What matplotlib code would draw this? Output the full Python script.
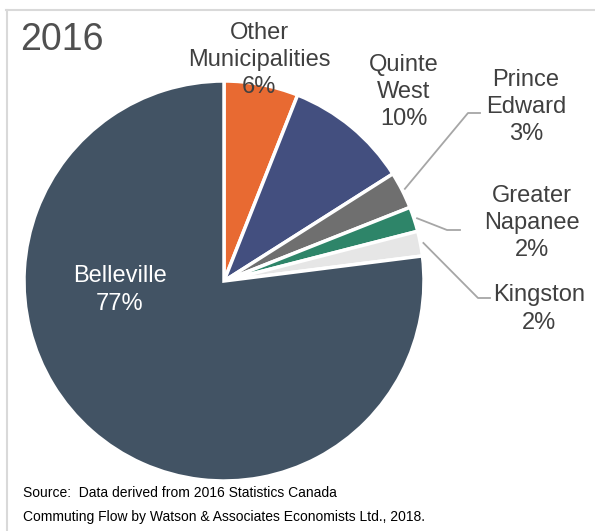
import numpy as np
import matplotlib
matplotlib.use("Agg")
import matplotlib.pyplot as plt

# Commuting destinations, 2016 (share of commuters, %)
places = ["Other\nMunicipalities", "Quinte\nWest", "Prince\nEdward",
          "Greater\nNapanee", "Kingston", "Belleville"]
shares = [6, 10, 3, 2, 2, 77]
colors = ["#E86A32", "#434F7F", "#6F6F6F", "#2E8569", "#E6E6E6", "#425364"]
year_label = "2016"
source_lines = ["Source:  Data derived from 2016 Statistics Canada",
                "Commuting Flow by Watson & Associates Economists Ltd., 2018."]

W, H = 595, 531
fig = plt.figure(figsize=(W / 100, H / 100), dpi=100)
ax = fig.add_axes([0, 0, 1, 1])

plt.rcParams["font.family"] = ["Liberation Sans", "DejaVu Sans"]
txt_color = "#404040"

def Y(y_top):
    return H - y_top

cx, cy, r = 224, Y(281), 200
wedges, _ = ax.pie(shares, colors=colors, startangle=90, counterclock=False,
                   center=(cx, cy), radius=r, frame=True,
                   wedgeprops=dict(edgecolor="white", linewidth=2.5))
ax.set_xlim(0, W)
ax.set_ylim(0, H)
ax.set_aspect("equal")
ax.axis("off")

# outer frame (top and left edges visible)
ax.plot([6, W], [Y(9.5), Y(9.5)], color="#D9D9D9", lw=1.5, clip_on=False)
ax.plot([6.5, 6.5], [Y(9.5), 0], color="#D9D9D9", lw=1.5, clip_on=False)

ax.text(20, Y(40), year_label, fontsize=27, color="#505050",
        ha="left", va="center")

fs = 17
ls = 1.3
label_pos = {
    0: (259, 60),
    1: (404, 92),
    2: (526, 107),
    3: (532, 223),
    4: (539, 309),
}
for i, (x, y) in label_pos.items():
    ax.text(x, Y(y), f"{places[i]}\n{shares[i]}%", fontsize=fs,
            color=txt_color, ha="center", va="center", linespacing=ls)
ax.text(120, Y(290), f"{places[5]}\n{shares[5]}%", fontsize=fs,
        color="white", ha="center", va="center", linespacing=ls)

# leader lines for the thin slices
elbows = {2: ((468, 113), 480), 3: ((447, 230), 460), 4: ((478, 298), 490)}
cum = np.cumsum([0] + shares)
for i, ((ex, ey), hx) in elbows.items():
    mid = 90 - 3.6 * (cum[i] + shares[i] / 2)
    a = np.deg2rad(mid)
    sx, sy = cx + (r + 3) * np.cos(a), cy + (r + 3) * np.sin(a)
    ax.plot([sx, ex, hx], [sy, Y(ey), Y(ey)], color="#A6A6A6", lw=1.3)

ax.text(23, Y(493), source_lines[0], fontsize=10, color="black",
        ha="left", va="center")
ax.text(23, Y(517), source_lines[1], fontsize=10, color="black",
        ha="left", va="center")

fig.savefig("out.png", dpi=100)
